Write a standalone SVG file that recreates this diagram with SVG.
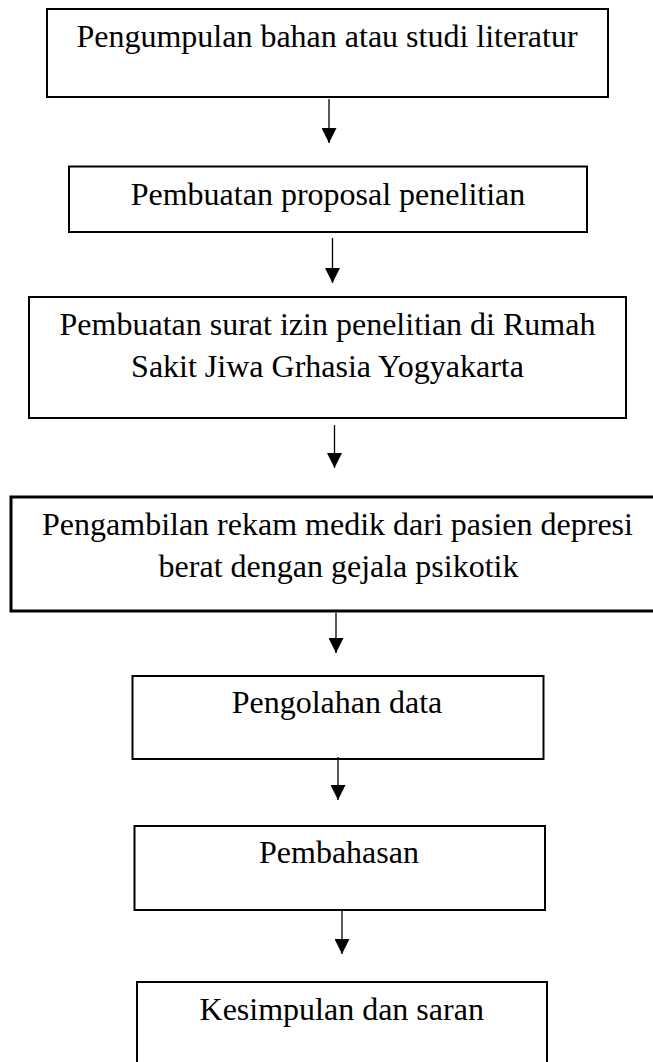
<svg xmlns="http://www.w3.org/2000/svg" width="653" height="1062" viewBox="0 0 653 1062">
<style>
.box{fill:#fff;stroke:#000;stroke-width:2}
.thick{stroke-width:3}
.lbl{font-family:"Liberation Serif","Times New Roman",serif;font-size:32px;fill:#000;text-anchor:middle}
.conn{stroke:#000;stroke-width:1.3;fill:none;marker-end:url(#ah)}
</style>
<defs>
<marker id="ah" markerUnits="userSpaceOnUse" markerWidth="15" markerHeight="15" viewBox="0 0 15 15" refX="15" refY="7.5" orient="auto">
<path d="M0,0 L15,7.5 L0,15 z" fill="#000"/>
</marker>
</defs>
<rect width="653" height="1062" fill="#fff"/>
<g id="n1"><rect class="box" x="47" y="9" width="561" height="88"/><text class="lbl" x="327" y="47">Pengumpulan bahan atau studi literatur</text></g>
<g id="n2"><rect class="box" x="69" y="166.5" width="518" height="65.5"/><text class="lbl" x="328" y="205">Pembuatan proposal penelitian</text></g>
<g id="n3"><rect class="box" x="29" y="297" width="597" height="121"/><text class="lbl" x="327.5" y="335">Pembuatan surat izin penelitian di Rumah</text><text class="lbl" x="327.5" y="377">Sakit Jiwa Grhasia Yogyakarta</text></g>
<g id="n4"><rect class="box thick" x="11" y="497" width="653" height="114"/><text class="lbl" x="337.5" y="535">Pengambilan rekam medik dari pasien depresi</text><text class="lbl" x="338.5" y="577">berat dengan gejala psikotik</text></g>
<g id="n5"><rect class="box" x="132.5" y="676" width="411" height="83"/><text class="lbl" x="337" y="713">Pengolahan data</text></g>
<g id="n6"><rect class="box" x="134.5" y="826" width="410.5" height="84"/><text class="lbl" x="339" y="863">Pembahasan</text></g>
<g id="n7"><rect class="box" x="137" y="982" width="410" height="100"/><text class="lbl" x="341.7" y="1020">Kesimpulan dan saran</text></g>
<g id="connectors">
<line class="conn" x1="329" y1="99" x2="329" y2="143"/>
<line class="conn" x1="332.5" y1="238" x2="332.5" y2="283"/>
<line class="conn" x1="334.5" y1="425" x2="334.5" y2="468"/>
<line class="conn" x1="336" y1="613" x2="336" y2="653"/>
<line class="conn" x1="338" y1="757" x2="338" y2="800"/>
<line class="conn" x1="342" y1="911" x2="342" y2="954"/>
</g>
</svg>
